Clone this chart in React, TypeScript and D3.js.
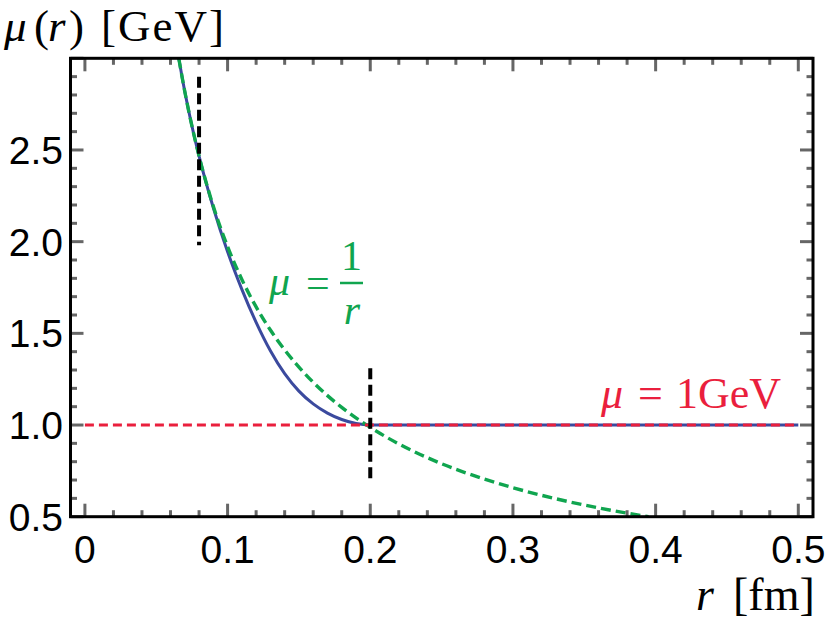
import React from "react";
import * as d3 from "d3";

// ---- data ----
const greenR = [0.0658, 0.07, 0.075, 0.08, 0.09, 0.1, 0.11, 0.12, 0.13, 0.14, 0.15, 0.16, 0.18, 0.2, 0.22, 0.25, 0.28, 0.3, 0.33, 0.36, 0.395];
const greenMu = [2.999, 2.819, 2.631, 2.467, 2.193, 1.973, 1.794, 1.644, 1.518, 1.41, 1.316, 1.233, 1.096, 0.987, 0.897, 0.789, 0.705, 0.658, 0.598, 0.548, 0.4996];

const blueR = [0.0658, 0.07, 0.075, 0.08, 0.09, 0.1, 0.11, 0.12, 0.13, 0.14, 0.15, 0.16, 0.17, 0.18, 0.19, 0.2, 0.5];
const blueMu = [2.999, 2.819, 2.631, 2.467, 2.185, 1.945, 1.74, 1.56, 1.405, 1.28, 1.185, 1.115, 1.065, 1.03, 1.008, 1.0, 1.0];

const redR = [0, 0.5];
const redMu = [1, 1];

const markerR = [0.08, 0.2];
const markerLo = [1.98, 0.69];
const markerHi = [2.9, 1.31];

const xMajor = [0, 0.1, 0.2, 0.3, 0.4, 0.5];
const xMajorLabels = ["0", "0.1", "0.2", "0.3", "0.4", "0.5"];
const xMinor = [0.02, 0.04, 0.06, 0.08, 0.12, 0.14, 0.16, 0.18, 0.22, 0.24, 0.26, 0.28, 0.32, 0.34, 0.36, 0.38, 0.42, 0.44, 0.46, 0.48];
const yMajor = [0.5, 1.0, 1.5, 2.0, 2.5, 3.0];
const yMajorLabels = ["0.5", "1.0", "1.5", "2.0", "2.5", ""];
const yMinor = [0.6, 0.7, 0.8, 0.9, 1.1, 1.2, 1.3, 1.4, 1.6, 1.7, 1.8, 1.9, 2.1, 2.2, 2.3, 2.4, 2.6, 2.7, 2.8, 2.9];

// ---- layout ----
const W = 830, H = 622;
const L = 70.5, R = 813, T = 58.3, B = 516.7;
const x = d3.scaleLinear().domain([-0.0101, 0.5103]).range([L, R]);
const y = d3.scaleLinear().domain([0.5, 3.0]).range([B, T]);

const BLUE = "#3b4a9e";
const GREEN = "#10a54f";
const RED = "#ea1f3d";
const TICK = "#666666";
const SERIF = "'Liberation Serif', 'Times New Roman', serif";
const SANS = "'Liberation Sans', Arial, sans-serif";

export default function App() {
  const line = d3.line<[number, number]>().x(d => x(d[0])).y(d => y(d[1])).curve(d3.curveMonotoneX);
  const greenPts = greenR.map((r, i) => [r, greenMu[i]] as [number, number]);
  const bluePts = blueR.map((r, i) => [r, blueMu[i]] as [number, number]);
  const redPts = redR.map((r, i) => [r, redMu[i]] as [number, number]);
  const majLen = 13, minLen = 6.5;

  return (
    <svg width={W} height={H} style={{ position: "absolute", left: 0, top: 0, background: "#fff" }}>
      <defs>
        <clipPath id="plot"><rect x={L} y={T} width={R - L} height={B - T} /></clipPath>
      </defs>
      <rect x={0} y={0} width={W} height={H} fill="#fff" />

      <g clipPath="url(#plot)" fill="none">
        <path d={line(bluePts) || ""} stroke={BLUE} strokeWidth={3} />
        <path d={line(greenPts) || ""} stroke={GREEN} strokeWidth={3.4} strokeDasharray="10,5" />
        <path d={line(redPts) || ""} stroke={RED} strokeWidth={3} strokeDasharray="9,5" />
        {markerR.map((r, i) => (
          <line key={i} x1={x(r)} x2={x(r)} y1={y(markerHi[i])} y2={y(markerLo[i])} stroke="#000" strokeWidth={4} strokeDasharray="11,5.5" />
        ))}
      </g>

      {/* ticks */}
      <g stroke={TICK} strokeWidth={3}>
        {xMajor.map((v, i) => (
          <g key={"xm" + i}>
            <line x1={x(v)} x2={x(v)} y1={B} y2={B - majLen} />
            <line x1={x(v)} x2={x(v)} y1={T} y2={T + majLen} />
          </g>
        ))}
        {xMinor.map((v, i) => (
          <g key={"xn" + i}>
            <line x1={x(v)} x2={x(v)} y1={B} y2={B - minLen} />
            <line x1={x(v)} x2={x(v)} y1={T} y2={T + minLen} />
          </g>
        ))}
        {yMajor.map((v, i) => (
          <g key={"ym" + i}>
            <line x1={L} x2={L + majLen} y1={y(v)} y2={y(v)} />
            <line x1={R} x2={R - majLen} y1={y(v)} y2={y(v)} />
          </g>
        ))}
        {yMinor.map((v, i) => (
          <g key={"yn" + i}>
            <line x1={L} x2={L + minLen} y1={y(v)} y2={y(v)} />
            <line x1={R} x2={R - minLen} y1={y(v)} y2={y(v)} />
          </g>
        ))}
      </g>

      {/* frame */}
      <rect x={L} y={T} width={R - L} height={B - T} fill="none" stroke="#000" strokeWidth={3} />

      {/* tick labels */}
      <g fontFamily={SANS} fontSize={39} fill="#000">
        {xMajor.map((v, i) => (
          <text key={"xl" + i} x={x(v)} y={563} textAnchor="middle">{xMajorLabels[i]}</text>
        ))}
        {yMajor.map((v, i) => (
          <text key={"yl" + i} x={63} y={y(v) + 14} textAnchor="end">{yMajorLabels[i]}</text>
        ))}
      </g>

      {/* axis titles */}
      <text x={4} y={41} fontFamily={SERIF} fontSize={45} fill="#000">
        <tspan fontStyle="italic">μ</tspan>
        <tspan x={34}>(</tspan>
        <tspan x={48} fontStyle="italic">r</tspan>
        <tspan x={69}>)</tspan>
        <tspan x={101} letterSpacing={2}>[GeV]</tspan>
      </text>
      <text x={696} y={610} fontFamily={SERIF} fontSize={46} fill="#000">
        <tspan fontStyle="italic">r</tspan>
        <tspan x={733}>[fm]</tspan>
      </text>

      {/* green annotation */}
      <g fontFamily={SERIF} fontSize={42} fill={GREEN}>
        <text x={269} y={295} fontStyle="italic">μ</text>
        <text x={306} y={297}>=</text>
        <text x={351.5} y={270} textAnchor="middle">1</text>
        <line x1={340} x2={363} y1={283} y2={283} stroke={GREEN} strokeWidth={2.5} />
        <text x={352} y={324} textAnchor="middle" fontStyle="italic">r</text>
      </g>

      {/* red annotation */}
      <text x={601} y={408} fontFamily={SERIF} fontSize={44} fill={RED}>
        <tspan fontStyle="italic">μ</tspan>
        <tspan x={638}>=</tspan>
        <tspan x={676}>1</tspan>
        <tspan x={698}>GeV</tspan>
      </text>
    </svg>
  );
}
